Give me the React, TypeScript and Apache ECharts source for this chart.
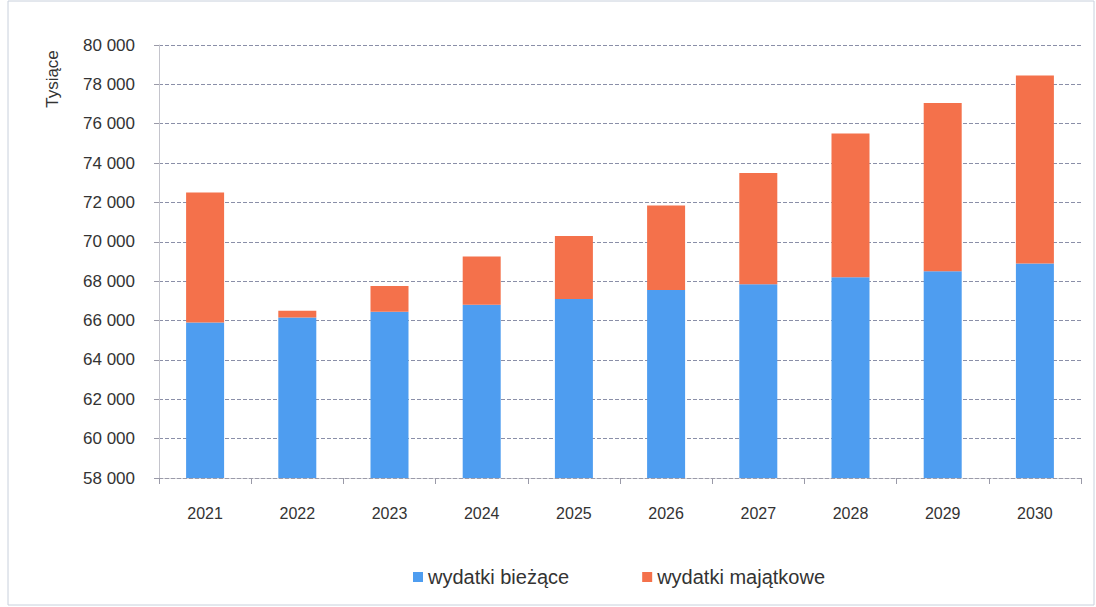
import React, { useEffect, useRef } from "react";
import * as echarts from "echarts";

const years = ["2021", "2022", "2023", "2024", "2025", "2026", "2027", "2028", "2029", "2030"];
const wydatkiBiezace = [65900, 66150, 66450, 66800, 67100, 67550, 67850, 68200, 68500, 68900];
const wydatkiMajatkowe = [6600, 350, 1300, 2450, 3200, 4300, 5650, 7300, 8550, 9550];
const seriesNames = ["wydatki bieżące", "wydatki majątkowe"];
const yMin = 58000;
const yMax = 80000;
const yStep = 2000;

export default function App() {
  const ref = useRef<HTMLDivElement>(null);
  useEffect(() => {
    if (!ref.current) return;
    const chart = echarts.init(ref.current, null, { renderer: "svg" });
    const font = "Liberation Sans, Arial, sans-serif";
    chart.setOption({
      animation: false,
      backgroundColor: "#ffffff",
      textStyle: { fontFamily: font },
      grid: { left: 159, right: 15, top: 45, bottom: 129, containLabel: false },
      legend: {
        top: 562,
        left: 408,
        itemWidth: 10,
        itemHeight: 10,
        itemGap: 73,
        icon: "rect",
        textStyle: { fontSize: 20, color: "#333", fontFamily: font },
        data: seriesNames,
      },
      xAxis: {
        type: "category",
        data: years,
        axisLine: { lineStyle: { color: "#9a9aa8", type: "dashed" } },
        axisTick: { show: true, length: 6, lineStyle: { color: "#9a9aa8" } },
        axisLabel: { fontSize: 16, color: "#333", margin: 27 },
      },
      yAxis: {
        type: "value",
        min: yMin,
        max: yMax,
        interval: yStep,
        axisLine: { show: true, lineStyle: { color: "#c4c4cc" } },
        axisTick: { show: true, length: 5, lineStyle: { color: "#9a9aa8" } },
        axisLabel: {
          fontSize: 17,
          color: "#333",
          margin: 24,
          formatter: (v: number) => String(v).replace(/\B(?=(\d{3})+(?!\d))/g, " "),
        },
        splitLine: { lineStyle: { color: "#8a8fa8", type: "dashed", width: 1 } },
      },
      graphic: [
        {
          type: "rect",
          shape: { x: 8, y: 1, width: 1086, height: 604 },
          style: { fill: "none", stroke: "#c8d0dc", lineWidth: 1 },
          silent: true,
        },
        {
          type: "text",
          x: 52,
          y: 79,
          rotation: Math.PI / 2,
          style: {
            text: "Tysiące",
            fontSize: 17,
            fill: "#333",
            fontFamily: font,
            align: "center",
            verticalAlign: "middle",
          },
        },
      ],
      series: [
        {
          name: seriesNames[0],
          type: "bar",
          stack: "total",
          data: wydatkiBiezace,
          barWidth: 38,
          itemStyle: { color: "#4e9df0" },
        },
        {
          name: seriesNames[1],
          type: "bar",
          stack: "total",
          data: wydatkiMajatkowe,
          barWidth: 38,
          itemStyle: { color: "#f4714b" },
        },
      ],
    });
    return () => chart.dispose();
  }, []);
  return (
    <div
      ref={ref}
      style={{ position: "fixed", left: 0, top: 0, width: 1096, height: 607 }}
    />
  );
}
